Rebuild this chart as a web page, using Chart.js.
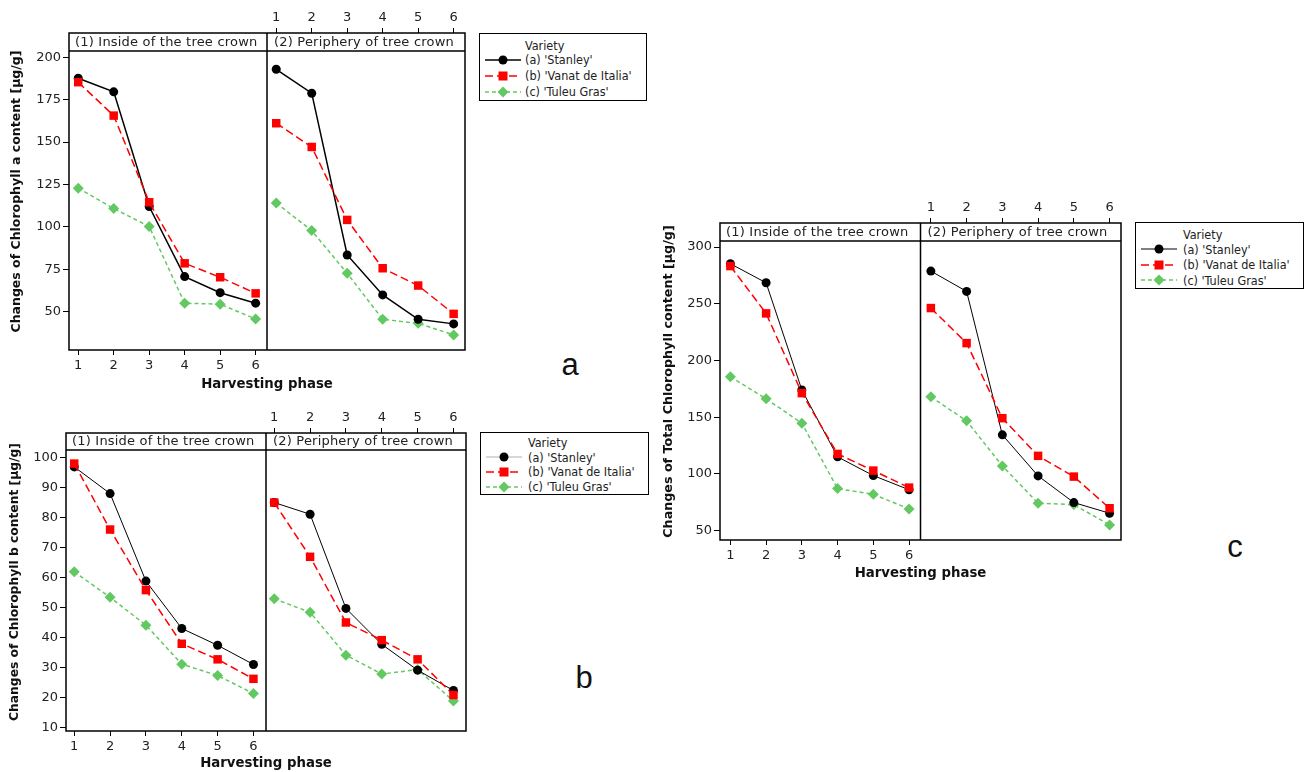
<!DOCTYPE html>
<html>
<head>
<meta charset="utf-8">
<script src="https://cdn.jsdelivr.net/npm/chart.js@4.4.1/dist/chart.umd.min.js"></script>
<style>
  body { margin: 0; background: #fff; }
  #page { position: relative; width: 1305px; height: 772px; overflow: hidden; background: #fff; }
  canvas { position: absolute; }
  .legend { position: absolute; border: 1.5px solid #000; box-sizing: border-box; background: #fff;
            font-family: "Liberation Sans Narrow", "DejaVu Sans Condensed", sans-serif; font-size: 12.5px; color: #222; }
  .legend div, .legend svg { position: absolute; }
  .legend div { line-height: 14px; white-space: nowrap; }
  .tag { position: absolute; font-family: "Liberation Sans", Arial, sans-serif; font-size: 31px; color: #111;
         line-height: 1; transform: translate(-50%, -50%); }
</style>
</head>
<body>
<div id="page">
  <canvas id="chartA" width="480" height="400" style="left:0;top:0"></canvas>
  <canvas id="chartB" width="480" height="372" style="left:0;top:400px"></canvas>
  <canvas id="chartC" width="480" height="400" style="left:650px;top:190px"></canvas>
  <div class="tag" style="left:570px;top:364px">a</div>
  <div class="tag" style="left:584px;top:677px">b</div>
  <div class="tag" style="left:1235px;top:546px">c</div>
</div>
<script>
const phases = [1, 2, 3, 4, 5, 6];
const varieties = ["(a) 'Stanley'", "(b) 'Vanat de Italia'", "(c) 'Tuleu Gras'"];
const panelNames = ['(1) Inside of the tree crown', '(2) Periphery of tree crown'];
const xTitle = 'Harvesting phase';

// (a) chlorophyll a, µg/g
const chlAInsideStanley = [187.6, 179.6, 112.0, 70.7, 61.2, 55.0];
const chlAInsideVanat = [185.3, 165.6, 114.5, 78.5, 70.3, 60.8];
const chlAInsideTuleu = [122.8, 110.8, 100.2, 55.0, 54.4, 45.7];
const chlAOutsideStanley = [192.9, 178.8, 83.4, 59.9, 45.5, 42.8];
const chlAOutsideVanat = [161.1, 147.1, 104.1, 75.6, 65.4, 48.7];
const chlAOutsideTuleu = [114.1, 97.8, 72.6, 45.5, 43.1, 36.3];
const chlAYTicks = [50, 75, 100, 125, 150, 175, 200];

// (b) chlorophyll b, µg/g
const chlBInsideStanley = [96.9, 88.0, 58.8, 43.0, 37.4, 31.0];
const chlBInsideVanat = [98.0, 76.0, 55.8, 37.9, 32.7, 26.2];
const chlBInsideTuleu = [61.9, 53.4, 44.1, 31.1, 27.3, 21.3];
const chlBOutsideStanley = [85.0, 81.1, 49.7, 37.7, 29.1, 22.3];
const chlBOutsideVanat = [85.0, 66.9, 45.0, 39.1, 32.7, 20.8];
const chlBOutsideTuleu = [52.9, 48.4, 34.1, 27.8, 29.3, 18.8];
const chlBYTicks = [10, 20, 30, 40, 50, 60, 70, 80, 90, 100];

// (c) total chlorophyll, µg/g
const totalInsideStanley = [285.3, 268.5, 174.0, 115.0, 98.5, 86.0];
const totalInsideVanat = [283.2, 241.5, 171.2, 117.6, 102.9, 87.9];
const totalInsideTuleu = [185.6, 166.2, 144.7, 87.0, 82.0, 69.1];
const totalOutsideStanley = [278.8, 260.9, 134.4, 98.2, 74.7, 65.3];
const totalOutsideVanat = [246.2, 215.3, 149.1, 115.9, 97.6, 69.7];
const totalOutsideTuleu = [167.9, 146.8, 107.0, 74.1, 72.9, 55.0];
const totalYTicks = [50, 100, 150, 200, 250, 300];

const GREEN = '#62c962';
const styles = [
  { color: '#000000', dash: [], point: 'circle', radius: 4.5, order: 1 },
  { color: '#ff0000', dash: [8, 4], point: 'rect', radius: 6, order: 0 },
  { color: GREEN, dash: [4, 3], point: 'rectRot', radius: 5.5, order: 2 }
];
const tickFont = { family: '"DejaVu Sans", sans-serif', size: 13 };
const tickColor = '#222';

// frame, divider and strip headers of the two panels
const panelPlugin = {
  id: 'panels',
  afterDraw(chart, args, opts) {
    const { ctx, chartArea: { left, right, top, bottom } } = chart;
    const mid = chart.scales.x.getPixelForValue(opts.divider);
    ctx.save();
    ctx.strokeStyle = '#000';
    ctx.lineWidth = 1.5;
    ctx.strokeRect(left, top, right - left, bottom - top);
    ctx.beginPath();
    ctx.moveTo(mid, top); ctx.lineTo(mid, bottom);
    ctx.moveTo(left, top + opts.headerH); ctx.lineTo(right, top + opts.headerH);
    ctx.stroke();
    ctx.font = '13px "DejaVu Sans"';
    ctx.letterSpacing = '0.2px';
    ctx.fillStyle = '#222';
    ctx.textBaseline = 'middle';
    ctx.fillText(panelNames[0], left + 6, top + opts.headerH / 2 + 0.5);
    ctx.fillText(panelNames[1], mid + 7, top + opts.headerH / 2 + 0.5);
    ctx.restore();
  }
};

function makeDatasets(inside, outside, span, stanleyWidth) {
  const sets = [];
  [inside, outside].forEach((panel, p) => {
    panel.forEach((vals, i) => {
      const s = styles[i];
      sets.push({
        label: varieties[i],
        data: phases.map((ph, k) => ({ x: ph + p * span, y: vals[k] })),
        borderColor: s.color,
        backgroundColor: s.color,
        borderWidth: i === 0 ? stanleyWidth : 1.5,
        borderDash: s.dash,
        pointStyle: s.point,
        pointRadius: s.radius,
        pointBorderWidth: 0,
        tension: 0,
        order: s.order
      });
    });
  });
  return sets;
}

function makeFigure(cfg) {
  const xMax = cfg.xMin + 2 * cfg.span;
  const tickGrid = { drawOnChartArea: false, color: '#000', tickLength: 5, lineWidth: 1 };
  return new Chart(document.getElementById(cfg.canvas), {
    type: 'line',
    data: { datasets: makeDatasets(cfg.inside, cfg.outside, cfg.span, cfg.stanleyWidth) },
    options: {
      responsive: false,
      animation: false,
      events: [],
      layout: { padding: { left: 0, top: 0, right: cfg.padRight, bottom: 0 }, autoPadding: false },
      plugins: {
        legend: { display: false },
        tooltip: { enabled: false },
        panels: { divider: cfg.xMin + cfg.span, headerH: cfg.headerH }
      },
      scales: {
        x: {
          type: 'linear', position: 'bottom', min: cfg.xMin, max: xMax,
          afterBuildTicks: axis => { axis.ticks = phases.map(v => ({ value: v })); },
          afterFit: axis => { axis.height = cfg.bottomH; },
          grid: tickGrid,
          border: { display: false },
          ticks: { font: tickFont, color: tickColor, padding: 3, callback: v => String(v) },
          title: {
            display: true, text: xTitle, color: '#111',
            font: { family: '"DejaVu Sans", sans-serif', size: 13.3, weight: 'bold' },
            padding: { top: 0, bottom: cfg.xTitlePad }
          }
        },
        xTop: {
          type: 'linear', position: 'top', min: cfg.xMin, max: xMax,
          afterBuildTicks: axis => { axis.ticks = phases.map(v => ({ value: v + cfg.span })); },
          afterFit: axis => { axis.height = cfg.topH; },
          grid: tickGrid,
          border: { display: false },
          ticks: { font: tickFont, color: tickColor, padding: 3, callback: v => String(Math.round(v - cfg.span)) }
        },
        y: {
          type: 'linear', position: 'left', min: cfg.yMin, max: cfg.yMax,
          afterBuildTicks: axis => { axis.ticks = cfg.yTicks.map(v => ({ value: v })); },
          afterFit: axis => { axis.width = cfg.yAxisW; },
          grid: { drawOnChartArea: false, color: '#000', tickLength: 6, lineWidth: 1 },
          border: { display: false },
          ticks: { font: tickFont, color: tickColor, padding: 2, callback: v => String(v) },
          title: {
            display: true, text: cfg.yTitle, color: '#111',
            font: { family: '"DejaVu Sans", sans-serif', size: cfg.yTitleSize, weight: 'bold' },
            padding: { top: cfg.yTitlePad, bottom: 0 }
          }
        }
      }
    },
    plugins: [panelPlugin]
  });
}

function symbolMarkup(i, lineColor, lineWidth) {
  const s = styles[i];
  let mark;
  if (s.point === 'circle') mark = `<circle cx="18" cy="6" r="4.5" fill="${s.color}"/>`;
  else if (s.point === 'rect') mark = `<rect x="13.5" y="1.5" width="9" height="9" fill="${s.color}"/>`;
  else mark = `<polygon points="18,0.5 23.5,6 18,11.5 12.5,6" fill="${s.color}"/>`;
  const dash = s.dash.length ? `stroke-dasharray="${s.dash.join(',')}"` : '';
  return `<line x1="0" y1="6" x2="36" y2="6" stroke="${lineColor}" stroke-width="${lineWidth}" ${dash}/>${mark}`;
}

function makeLegend(box) {
  const el = document.createElement('div');
  el.className = 'legend';
  Object.assign(el.style, { left: box.left + 'px', top: box.top + 'px', width: box.width + 'px', height: box.height + 'px' });
  let html = `<div style="left:${box.textX}px;top:${box.titleY - 7}px">Variety</div>`;
  varieties.forEach((name, i) => {
    const cy = box.firstRow + i * box.rowGap;
    const lineColor = i === 0 ? box.stanleyColor : styles[i].color;
    const lineWidth = i === 0 ? box.stanleyWidth : 1.5;
    html += `<svg style="left:5px;top:${cy - 7}px" width="36" height="12">${symbolMarkup(i, lineColor, lineWidth)}</svg>`;
    html += `<div style="left:${box.textX}px;top:${cy - 7.5}px">${name}</div>`;
  });
  el.innerHTML = html;
  document.getElementById('page').appendChild(el);
}

makeFigure({
  canvas: 'chartA', inside: [chlAInsideStanley, chlAInsideVanat, chlAInsideTuleu],
  outside: [chlAOutsideStanley, chlAOutsideVanat, chlAOutsideTuleu],
  yMin: 27.4, yMax: 214.3, yTicks: chlAYTicks,
  yTitle: 'Changes of Chlorophyll a content [µg/g]', yTitleSize: 12.5, yTitlePad: 9,
  xMin: 0.74, span: 5.58, yAxisW: 69, topH: 33, bottomH: 50, padRight: 15,
  headerH: 18, xTitlePad: 7, stanleyWidth: 1.5
});
makeFigure({
  canvas: 'chartB', inside: [chlBInsideStanley, chlBInsideVanat, chlBInsideTuleu],
  outside: [chlBOutsideStanley, chlBOutsideVanat, chlBOutsideTuleu],
  yMin: 8.8, yMax: 108.2, yTicks: chlBYTicks,
  yTitle: 'Changes of Chlorophyll b content [µg/g]', yTitleSize: 12.3, yTitlePad: 7,
  xMin: 0.77, span: 5.58, yAxisW: 66, topH: 33, bottomH: 41, padRight: 14,
  headerH: 17, xTitlePad: 0, stanleyWidth: 1
});
makeFigure({
  canvas: 'chartC', inside: [totalInsideStanley, totalInsideVanat, totalInsideTuleu],
  outside: [totalOutsideStanley, totalOutsideVanat, totalOutsideTuleu],
  yMin: 41.7, yMax: 321.2, yTicks: totalYTicks,
  yTitle: 'Changes of Total Chlorophyll content [µg/g]', yTitleSize: 12.7, yTitlePad: 11.4,
  xMin: 0.71, span: 5.61, yAxisW: 70, topH: 33, bottomH: 50, padRight: 9,
  headerH: 18, xTitlePad: 8, stanleyWidth: 1
});

makeLegend({ left: 479, top: 33, width: 168, height: 68, textX: 45, titleY: 12, firstRow: 26.5, rowGap: 16.2, stanleyColor: '#000', stanleyWidth: 1.5 });
makeLegend({ left: 480, top: 432, width: 169, height: 63, textX: 47, titleY: 10, firstRow: 25, rowGap: 14.9, stanleyColor: '#999', stanleyWidth: 0.8 });
makeLegend({ left: 1135, top: 222, width: 169, height: 67, textX: 47, titleY: 12, firstRow: 27, rowGap: 15.5, stanleyColor: '#000', stanleyWidth: 1 });
</script>
</body>
</html>
